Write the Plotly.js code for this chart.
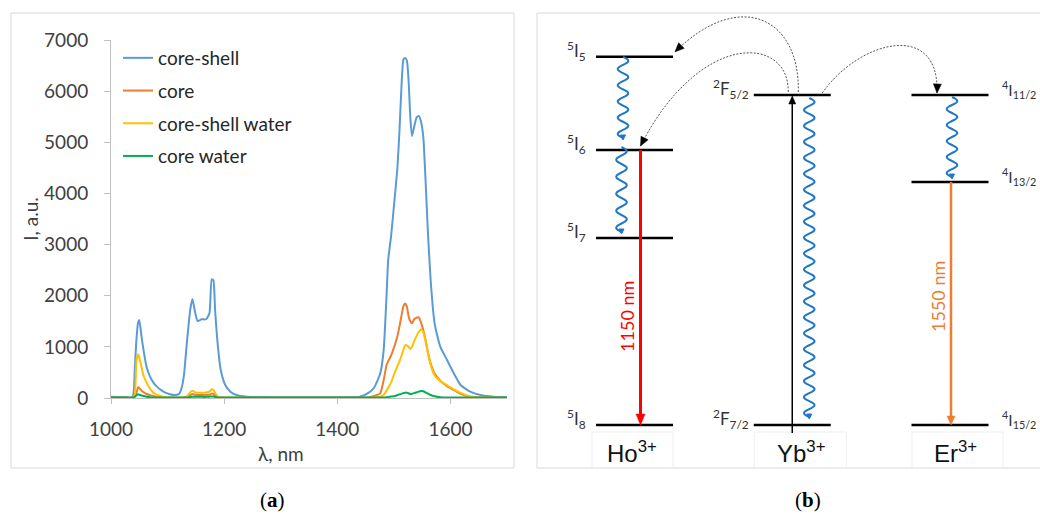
<!DOCTYPE html>
<html><head><meta charset="utf-8">
<script src="https://cdn.plot.ly/plotly-3.0.1.min.js"></script>
<style>html,body{margin:0;padding:0;background:#fff}#chart{width:1040px;height:515px}</style>
</head><body><div id="chart"></div>
<script>
// ---------- (a) emission spectra ----------
const wavelength = [1000,1020,1038,1042,1045,1048,1050,1054,1058,1063,1069,1075,1081,1088,1096,1104,1112,1120,1125,1129,1134,1140,1144,1149,1153,1160,1168,1174,1178,1181,1184,1189,1194,1202,1211,1222,1240,1270,1300,1350,1400,1440,1455,1465,1476,1482,1487,1490,1495,1500,1506,1510,1514,1517,1520,1523,1526,1529,1532,1536,1540,1544,1548,1552,1556,1560,1565,1572,1582,1594,1606,1618,1635,1653,1676,1700];
const coreShell = [25,20,22,560,1150,1480,1525,1200,900,600,417,300,222,160,104,75,59,75,200,450,1069,1721,1936,1656,1506,1538,1540,1656,2320,2300,1721,1004,548,254,124,59,25,18,15,15,15,25,100,200,483,938,1981,2700,3155,3741,4458,5240,6218,6623,6650,6600,6218,5500,5123,5305,5480,5514,5403,5110,4263,3285,2307,1460,1003,743,483,254,124,59,25,15];
const core = [5,5,5,30,100,209,195,143,110,78,55,40,25,10,5,5,5,5,5,10,25,59,78,62,58,59,62,65,85,80,50,20,8,5,5,5,5,5,5,5,5,5,15,40,92,350,640,720,830,980,1199,1400,1640,1800,1850,1786,1600,1500,1460,1540,1570,1577,1480,1330,1134,900,678,480,340,230,156,80,25,8,5,5];
const coreShellWater = [5,5,5,60,743,854,790,600,420,300,180,104,65,38,15,8,5,5,5,10,30,110,143,104,102,104,110,125,170,160,104,30,10,5,5,5,5,5,5,5,5,5,5,8,25,60,140,200,300,450,613,720,841,950,1036,1030,1000,952,1000,1110,1210,1290,1343,1290,1120,900,650,440,330,250,170,100,30,8,5,5];
const coreWater = [8,8,8,20,55,72,65,50,38,25,15,10,8,8,8,8,8,8,8,8,10,20,25,22,22,22,22,25,30,28,20,10,8,8,8,8,8,8,8,8,8,8,8,8,8,10,15,20,28,35,55,70,85,95,104,104,92,80,85,95,110,125,137,132,110,85,59,35,15,8,8,8,8,8,8,8];
const seriesNames = ['core-shell','core','core-shell water','core water'];
const xTicks = [1000,1200,1400,1600];
const yTicks = [0,1000,2000,3000,4000,5000,6000,7000];
const xTitle = 'λ, nm';
const yTitle = 'I, a.u.';

// ---------- (b) energy level diagram ----------
const ions = ['Ho<sup>3+</sup>','Yb<sup>3+</sup>','Er<sup>3+</sup>'];
const hoLevels = ['<sup>5</sup>I<sub>5</sub>','<sup>5</sup>I<sub>6</sub>','<sup>5</sup>I<sub>7</sub>','<sup>5</sup>I<sub>8</sub>'];
const hoEnergy = [11380, 8500, 5780, 0];
const ybLevels = ['<sup>2</sup>F<sub>5/2</sub>','<sup>2</sup>F<sub>7/2</sub>'];
const ybEnergy = [10200, 0];
const erLevels = ['<sup>4</sup>I<sub>11/2</sub>','<sup>4</sup>I<sub>13/2</sub>','<sup>4</sup>I<sub>15/2</sub>'];
const erEnergy = [10200, 7510, 0];
const emissionLabels = ['1150 nm','1550 nm'];
const captions = ['(<b>a</b>)','(<b>b</b>)'];

// ---------- layout helpers ----------
const W = 1040, H = 515;
const FONT = 'Lato, "Liberation Sans", Arial, sans-serif';
const P = px => px / W, Q = py => 1 - py / H;
const colors = ['#5B9BD5','#ED7D31','#FFC000','#00B050'];
const seriesValues = [coreShell, core, coreShellWater, coreWater];

const traces = seriesNames.map((name, i) => ({
  type: 'scatter', mode: 'lines', name: name, x: wavelength, y: seriesValues[i],
  line: {color: colors[i], width: 2, shape: 'spline', smoothing: 0.5},
  legendgroup: 'g' + i, xaxis: 'x', yaxis: 'y', hoverinfo: 'skip'
}));

// diagram mapping: x2 in "column" units, y2 in energy units
const colPx0 = 634.5, colStep = 157.75, groundPx = 425, pxPerE = 330 / 10200;
const x2Left = 537;
const dx = p => p / colStep, dy = p => p / pxPerE;
const toPx = (c, E) => [colPx0 + c * colStep, groundPx - E * pxPerE];
const toData = (px, py) => [(px - colPx0) / colStep, (groundPx - py) / pxPerE];
const ptData = p => toData(p[0], p[1]);

const ionData = [
  {levels: hoLevels, E: hoEnergy},
  {levels: ybLevels, E: ybEnergy},
  {levels: erLevels, E: erEnergy}
];

const shapes = [];
const annotations = [];

// frames
shapes.push({type:'rect', xref:'paper', yref:'paper', x0:P(11), x1:P(514), y0:Q(468), y1:Q(13), line:{color:'#d9d9d9', width:1}, layer:'below'});
shapes.push({type:'rect', xref:'paper', yref:'paper', x0:P(537), x1:P(1046), y0:Q(468), y1:Q(13), line:{color:'#d9d9d9', width:1}, layer:'below'});
// faint boxes behind ion labels
const ionBox = [[-42.5, 38.5], [-38, 54], [-38, 53]];
ionBox.forEach((b, c) => {
  const cx = colPx0 + c * colStep;
  shapes.push({type:'rect', xref:'paper', yref:'paper', x0:P(cx + b[0]), x1:P(cx + b[1]), y0:Q(468), y1:Q(432), line:{color:'#efefef', width:1}, layer:'below'});
});

// level lines & labels
const halfW = 38.5;
const labelSide = ['left','left','right'];
const labelGap = [8, 3, 11];
const labelSize = [17, 17, 15.5];
ionData.forEach((ion, c) => {
  ion.E.forEach((E, j) => {
    shapes.push({type:'line', xref:'x2', yref:'y2', x0:c - dx(halfW), x1:c + dx(halfW), y0:E, y1:E, line:{color:'#000', width:2.5}});
    const left = labelSide[c] === 'left';
    annotations.push({xref:'x2', yref:'y2', x: left ? c - dx(halfW + labelGap[c]) : c + dx(halfW + labelGap[c]), y: E,
      xanchor: left ? 'right' : 'left', yanchor:'middle', yshift: 6, showarrow:false,
      text: ion.levels[j], font:{family: FONT, size: labelSize[c], color:'#333'}});
  });
  const shift = [-3, 9, 5][c];
  annotations.push({xref:'x2', yref:'paper', x: c + dx(shift), y: Q(452), xanchor:'center', yanchor:'middle', showarrow:false,
    text: ions[c], font:{family:'"Liberation Sans", Arial, sans-serif', size: 24, color:'#111'}});
});

function tri(tipX, tipY, dirX, dirY, len, hw) {
  const n = Math.hypot(dirX, dirY); const ux = dirX / n, uy = dirY / n;
  const bx = tipX - ux * len, by = tipY - uy * len;
  const pts = [[tipX, tipY], [bx - uy * hw, by + ux * hw], [bx + uy * hw, by - ux * hw]].map(ptData);
  return 'M' + pts.map(p => p[0] + ',' + p[1]).join('L') + 'Z';
}

// non-radiative relaxations (wavy)
const relax = [
  {c:0, from:hoEnergy[0], to:hoEnergy[1], off:-11.5, gTop:0, gBot:12},
  {c:0, from:hoEnergy[1], to:hoEnergy[2], off:-13, gTop:-3, gBot:6},
  {c:1, from:ybEnergy[0], to:ybEnergy[1], off:17, gTop:3, gBot:8},
  {c:2, from:erEnergy[0], to:erEnergy[1], off:2, gTop:2, gBot:5}
];
const waveAmp = 5.3, wavePeriod = 16, waveBlue = '#1F77C8';
relax.forEach(r => {
  const [cx, yTopPx] = toPx(r.c, r.from);
  const yBotPx = toPx(r.c, r.to)[1];
  const y0 = yTopPx + r.gTop, y1 = yBotPx - r.gBot;
  const xc = cx + r.off;
  const nPer = Math.max(1, Math.round((y1 - y0) / wavePeriod));
  const per = (y1 - y0) / nPer;
  const steps = nPer * 16;
  let d = '';
  let lastX = xc, lastY = y0;
  for (let i = 0; i <= steps; i++) {
    const py = y0 + (y1 - y0) * i / steps;
    const px = xc + waveAmp * Math.sin(2 * Math.PI * (py - y0) / per);
    const p = toData(px, py);
    d += (i === 0 ? 'M' : 'L') + p[0] + ',' + p[1];
    lastX = px; lastY = py;
  }
  shapes.push({type:'path', xref:'x2', yref:'y2', path:d, line:{color:waveBlue, width:2}});
  shapes.push({type:'path', xref:'x2', yref:'y2', path:tri(lastX, lastY + 2, 0, 1, 5, 2.5), fillcolor:waveBlue, line:{color:waveBlue, width:1}});
});

// radiative transitions and absorption (straight arrows)
const arrows = [
  {c:0, from:hoEnergy[1], to:hoEnergy[3], off:6, color:'#FF0000', w:3, len:11, hw:4.5, tail:0, tip:0},
  {c:2, from:erEnergy[1], to:erEnergy[2], off:1, color:'#ED7D31', w:2.5, len:9, hw:4, tail:0, tip:0},
  {c:1, from:ybEnergy[1], to:ybEnergy[0], off:0, color:'#000000', w:1.5, len:8, hw:3.5, tail:8, tip:1}
];
arrows.forEach(a => {
  const [cx, yFrom] = toPx(a.c, a.from);
  const yTo = toPx(a.c, a.to)[1];
  const dir = Math.sign(yTo - yFrom);         // +1 downwards, -1 upwards (pixel space)
  const x = cx + a.off;
  const tailY = yFrom - dir * a.tail;
  const tipY = yTo - dir * a.tip;
  const baseY = tipY - dir * (a.len - 1);
  const p0 = toData(x, tailY), p1 = toData(x, baseY);
  shapes.push({type:'line', xref:'x2', yref:'y2', x0:p0[0], y0:p0[1], x1:p1[0], y1:p1[1], line:{color:a.color, width:a.w}});
  shapes.push({type:'path', xref:'x2', yref:'y2', path:tri(x, tipY, 0, dir, a.len, a.hw), fillcolor:a.color, line:{color:a.color, width:0.5}});
});
// emission labels (rotated)
const emis = [{c:0, off:-7.5, top:hoEnergy[1], frac:0.393, color:'#FF0000'}, {c:2, off:-12, top:erEnergy[1], frac:0.527, color:'#ED7D31'}];
emis.forEach((e, i) => {
  annotations.push({xref:'x2', yref:'y2', x: e.c + dx(e.off), y: e.top * e.frac, textangle:-90, showarrow:false,
    xanchor:'center', yanchor:'middle', text: emissionLabels[i], font:{family: FONT, size: 18, color: e.color}});
});

// energy transfer (dotted curved arrows) from Yb 2F5/2
const transfers = [
  {tc:0, tE:hoEnergy[0], s:[6,-3], e:[40.5,-5], c1:[2,-74], c2:[65,-64]},
  {tc:0, tE:hoEnergy[1], s:[-4,-3], e:[6,-4], c1:[1,-57], c2:[59,-116]},
  {tc:2, tE:erEnergy[0], s:[30,-2], e:[-13,-2], c1:[37,-53], c2:[3,-73]}
];
transfers.forEach(t => {
  const [sx0, sy0] = toPx(1, ybEnergy[0]);
  const [ex0, ey0] = toPx(t.tc, t.tE);
  const S = [sx0 + t.s[0], sy0 + t.s[1]], E = [ex0 + t.e[0], ey0 + t.e[1]];
  const C1 = [S[0] + t.c1[0], S[1] + t.c1[1]], C2 = [E[0] + t.c2[0], E[1] + t.c2[1]];
  const d = [S, C1, C2, E].map(ptData);
  const path = 'M' + d[0].join(',') + ' C' + d[1].join(',') + ' ' + d[2].join(',') + ' ' + d[3].join(',');
  shapes.push({type:'path', xref:'x2', yref:'y2', path:path, line:{color:'#555', width:1, dash:'2px,1.5px'}});
  shapes.push({type:'path', xref:'x2', yref:'y2', path:tri(E[0], E[1], E[0] - C2[0], E[1] - C2[1], 9, 4), fillcolor:'#000', line:{color:'#000', width:0.5}});
});

// captions & x-axis title
annotations.push({xref:'paper', yref:'paper', x:P(272), y:Q(500), showarrow:false, xanchor:'center', yanchor:'middle', text:captions[0], font:{family:'"Liberation Serif", "DejaVu Serif", serif', size:21, color:'#000'}});
annotations.push({xref:'paper', yref:'paper', x:P(808), y:Q(500), showarrow:false, xanchor:'center', yanchor:'middle', text:captions[1], font:{family:'"Liberation Serif", "DejaVu Serif", serif', size:21, color:'#000'}});
annotations.push({xref:'paper', yref:'paper', x:P(281), y:Q(453), showarrow:false, xanchor:'center', yanchor:'middle', text:xTitle, font:{family:FONT, size:19, color:'#404040'}});

const layout = {
  width: W, height: H, margin: {l:0, r:0, t:0, b:0},
  paper_bgcolor: '#fff', plot_bgcolor: 'rgba(0,0,0,0)',
  font: {family: FONT, color: '#404040'},
  showlegend: true,
  legend: {x: P(118), xanchor:'left', y: Q(39), yanchor:'top', bgcolor:'rgba(0,0,0,0)', tracegroupgap: 5,
    font: {family: FONT, size: 19, color: '#262626'}},
  xaxis: {domain:[P(111), P(507)], range:[1000, 1700], tickvals: xTicks, ticks:'outside', ticklen:5, tickcolor:'#bfbfbf',
    showline:true, linecolor:'#bfbfbf', linewidth:1, showgrid:false, zeroline:false, ticklabelstandoff: 9,
    tickfont:{family:FONT, size:19, color:'#404040'}, anchor:'y'},
  yaxis: {domain:[Q(398), Q(40)], range:[0, 7000], tickvals: yTicks, ticks:'outside', ticklen:6, tickcolor:'#bfbfbf',
    showline:true, linecolor:'#bfbfbf', linewidth:1, showgrid:false, zeroline:false, ticklabelstandoff: 12,
    tickfont:{family:FONT, size:19, color:'#404040'}, anchor:'x',
    title:{text:yTitle, font:{family:FONT, size:19, color:'#404040'}, standoff: 0}},
  xaxis2: {domain:[P(x2Left), 1], range:[(x2Left - colPx0) / colStep, (W - colPx0) / colStep], visible:false, anchor:'y2', fixedrange:true},
  yaxis2: {domain:[0, 1], range:[(groundPx - H) / pxPerE, groundPx / pxPerE], visible:false, anchor:'x2', fixedrange:true},
  shapes: shapes, annotations: annotations
};

// invisible trace so the second subplot exists
traces.push({type:'scatter', mode:'markers', x:[0], y:[0], xaxis:'x2', yaxis:'y2', marker:{opacity:0}, showlegend:false, hoverinfo:'skip'});

Plotly.newPlot('chart', traces, layout, {staticPlot:true, displayModeBar:false});
</script></body></html>
